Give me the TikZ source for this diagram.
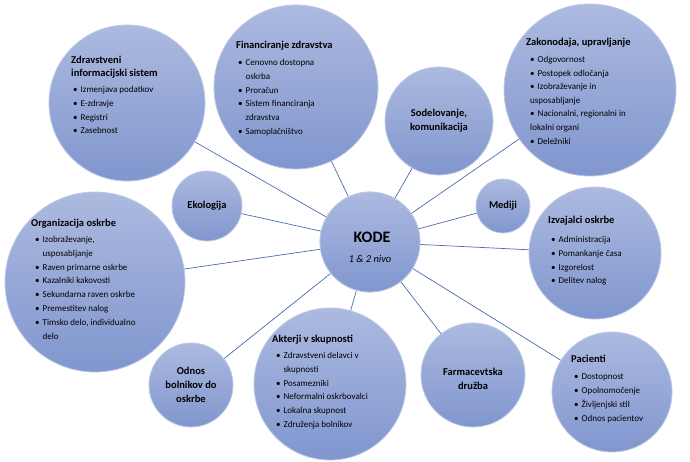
\documentclass[tikz,border=0pt]{standalone}
\usepackage{fontspec}
\setmainfont{Carlito}
\definecolor{ctop}{RGB}{172,186,224}
\definecolor{cbot}{RGB}{128,150,206}
\definecolor{cedge}{RGB}{190,200,228}
\definecolor{lnk}{RGB}{74,108,172}
\newcommand{\bl}{\textbullet\hspace{3pt}}
\newcommand{\ind}{\hphantom{\textbullet\hspace{3pt}}}
\begin{document}
\begin{tikzpicture}[x=1pt,y=1pt,
  bub/.style={circle,draw=cedge,line width=0.8pt,top color=ctop,bottom color=cbot,inner sep=0pt,minimum size=#1},
  ttl/.style={anchor=north west,font=\fontsize{10.5}{13}\selectfont\bfseries,align=left,inner sep=0pt},
  lst/.style={anchor=north west,font=\fontsize{9}{13.8}\selectfont,align=left,inner sep=0pt},
  ctr/.style={font=\fontsize{10.5}{14}\selectfont\bfseries,align=center,inner sep=0pt},
  lnkline/.style={draw=lnk,line width=0.7pt}]
\useasboundingbox (0,0) rectangle (690,-461);
\node[bub=100pt] (kode) at (370,-242) {};
\node[bub=156pt] (zis) at (127,-103) {};
\node[bub=164pt] (fin) at (296,-87) {};
\node[bub=108pt] (sod) at (439,-121) {};
\node[bub=172pt] (zak) at (590,-90) {};
\node[bub=70pt] (eko) at (207,-206) {};
\node[bub=54pt] (med) at (503,-206) {};
\node[bub=180pt] (org) at (95,-282) {};
\node[bub=132pt] (izv) at (595,-253) {};
\node[bub=84pt] (odn) at (191,-385) {};
\node[bub=152pt] (akt) at (330,-384) {};
\node[bub=104pt] (far) at (473,-375) {};
\node[bub=120pt] (pac) at (612,-392) {};
\foreach \t in {zis,fin,sod,zak,eko,med,org,izv,odn,akt,far,pac}
  \draw[lnkline] (kode) -- (\t);
\node[bub=100pt,draw=cedge] at (kode) {};
\node[font=\fontsize{16}{18}\selectfont\bfseries] (kt) at (372,-237) {KODE};
\node[font=\fontsize{10.5}{12}\selectfont\itshape] (kn) at (370,-259) {1 \& 2 nivo};
\node[ttl] (zist) at (71,-56) {Zdravstveni\\informacijski sistem};
\node[lst] (zisl) at (73,-86) {\bl Izmenjava podatkov\\\bl E-zdravje\\\bl Registri\\\bl Zasebnost};
\node[ttl] (fint) at (236,-41) {Financiranje zdravstva};
\node[lst] (finl) at (238,-59) {\bl Cenovno dostopna\\\ind oskrba\\\bl Proračun\\\bl Sistem financiranja\\\ind zdravstva\\\bl Samoplačništvo};
\node[ctr] (sodt) at (439,-121) {Sodelovanje,\\komunikacija};
\node[ttl] (zakt) at (526,-38) {Zakonodaja, upravljanje};
\node[lst,font=\fontsize{9}{13.6}\selectfont] (zakl) at (530,-56) {\bl Odgovornost\\\bl Postopek odločanja\\\bl Izobraževanje in\\usposabljanje\\\bl Nacionalni, regionalni in\\lokalni organi\\\bl Deležniki};
\node[ctr] (ekot) at (207,-206) {Ekologija};
\node[ctr] (medt) at (503,-206) {Mediji};
\node[ttl] (orgt) at (31,-219) {Organizacija oskrbe};
\node[lst] (orgl) at (35,-236) {\bl Izobraževanje,\\\ind usposabljanje\\\bl Raven primarne oskrbe\\\bl Kazalniki kakovosti\\\bl Sekundarna raven oskrbe\\\bl Premestitev nalog\\\bl Timsko delo, individualno\\\ind delo};
\node[ttl] (izvt) at (548,-216) {Izvajalci oskrbe};
\node[lst] (izvl) at (551,-236) {\bl Administracija\\\bl Pomankanje časa\\\bl Izgorelost\\\bl Delitev nalog};
\node[ctr] (odnt) at (191,-385) {Odnos\\bolnikov do\\oskrbe};
\node[ttl] (aktt) at (272,-335) {Akterji v skupnosti};
\node[lst] (aktl) at (276,-352) {\bl Zdravstveni delavci v\\\ind skupnosti\\\bl Posamezniki\\\bl Neformalni oskrbovalci\\\bl Lokalna skupnost\\\bl Združenja bolnikov};
\node[ctr] (fart) at (473,-379) {Farmacevtska\\družba};
\node[ttl] (pact) at (571,-355) {Pacienti};
\node[lst] (pacl) at (574,-374) {\bl Dostopnost\\\bl Opolnomočenje\\\bl Življenjski stil\\\bl Odnos pacientov};
\end{tikzpicture}
\end{document}
